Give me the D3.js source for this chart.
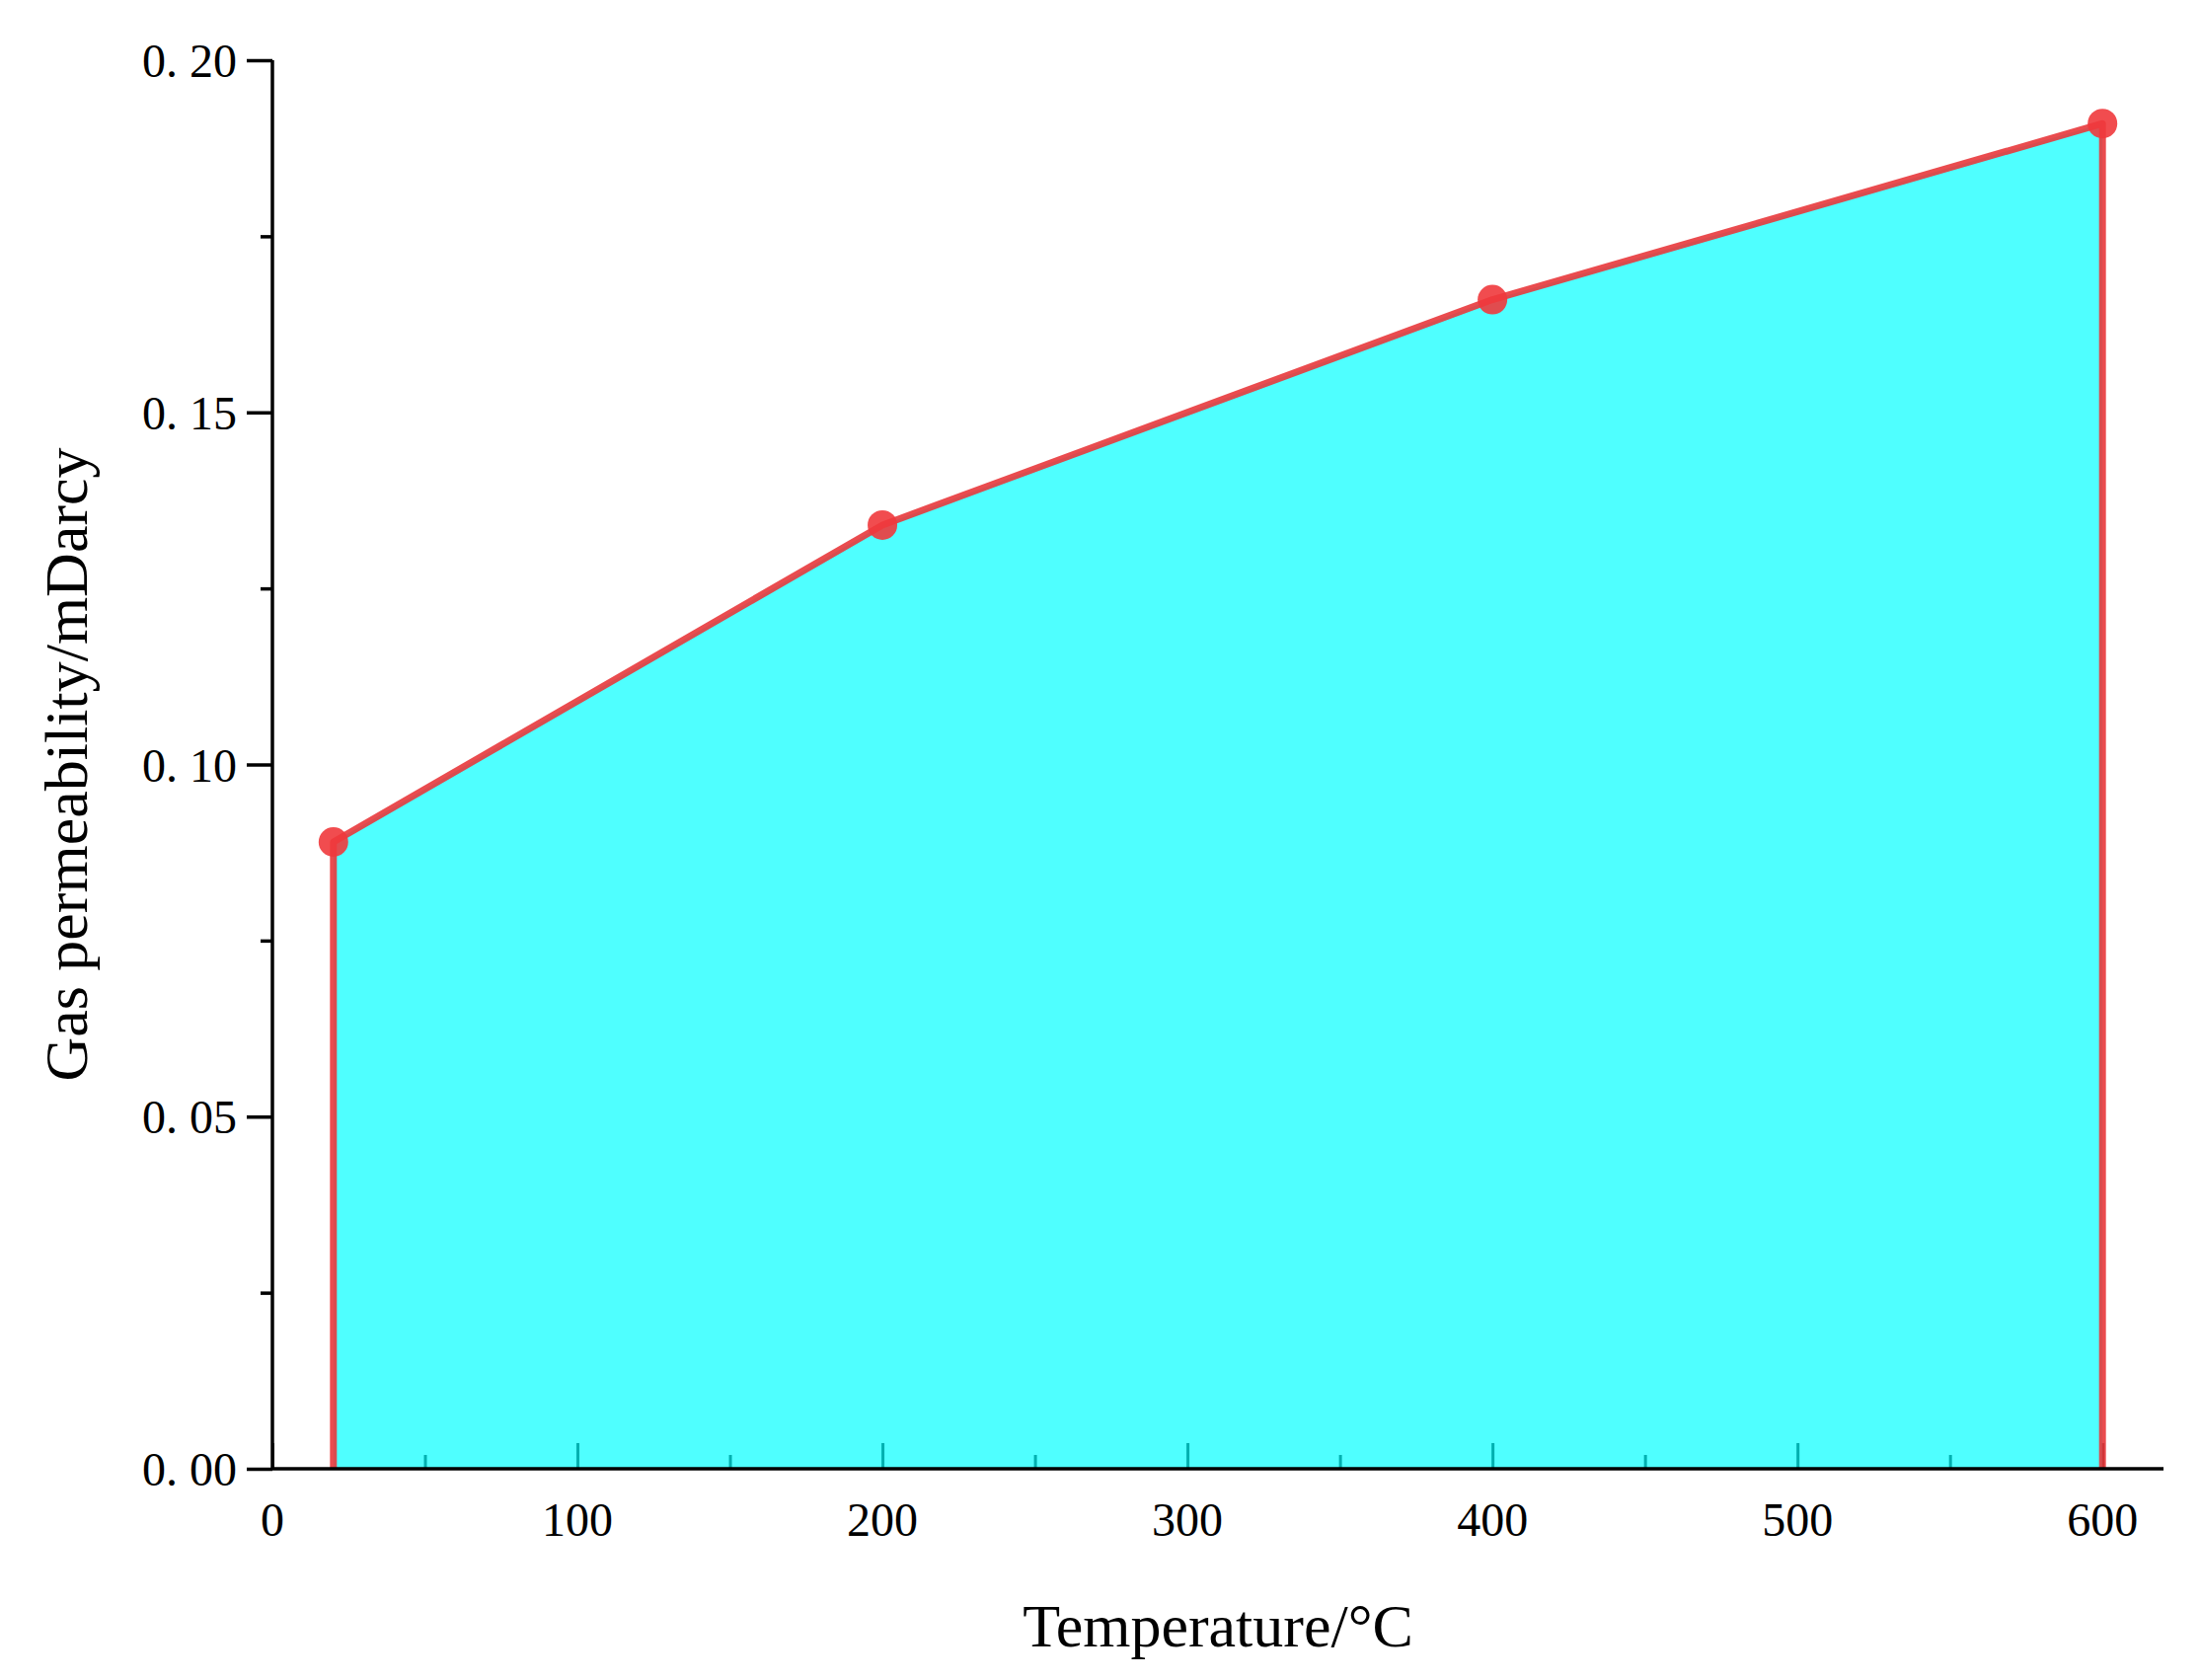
<!DOCTYPE html><html><head><meta charset="utf-8"><script src="https://cdn.jsdelivr.net/npm/d3@7"></script>
<style>body{margin:0;background:#fff}text{font-family:"Liberation Serif","DejaVu Serif",serif}</style></head><body><svg id="c" width="2230" height="1702"></svg><script>
const temps=[20,200,400,600];
const perm=[0.089,0.134,0.166,0.191];
const xTicks=[0,100,200,300,400,500,600];
const yTicks=[0,0.05,0.10,0.15,0.20];
const svg=d3.select("#c");
const x=d3.scaleLinear().domain([0,620]).range([276,2192]);
const y=d3.scaleLinear().domain([0,0.20]).range([1488,61]);
const data=temps.map((t,i)=>({t,v:perm[i]}));
// x ticks inward (drawn under fill)
const xa=svg.append("g").attr("transform",`translate(0,${y(0)})`)
 .call(d3.axisBottom(x).tickValues(d3.range(0,621,50)).tickSize(-26).tickFormat(""));
xa.selectAll(".tick line").attr("stroke","#000").attr("stroke-width",3).attr("y2",d=>d%100===0?-26:-14);
xa.select(".domain").remove();
svg.append("g").selectAll("text").data(xTicks).join("text").attr("x",d=>x(d)).attr("y",y(0)+68)
 .attr("text-anchor","middle").attr("font-size",48).text(d=>d);
// area
const pts=[[x(temps[0]),y(0)],...data.map(d=>[x(d.t),y(d.v)]),[x(temps[3]),y(0)]];
svg.append("path").attr("d",d3.line()(pts)).attr("fill","#00ffff").attr("fill-opacity",0.69).attr("stroke","none");
svg.append("path").attr("d",d3.line()(pts)).attr("fill","none").attr("stroke","#e8383c").attr("stroke-opacity",0.9).attr("stroke-width",7).attr("stroke-linejoin","round");
svg.append("g").selectAll("circle").data(data).join("circle").attr("cx",d=>x(d.t)).attr("cy",d=>y(d.v)).attr("r",15).attr("fill","#f0383c").attr("fill-opacity",0.9);
// axes lines
svg.append("line").attr("x1",x(0)).attr("x2",x(620)).attr("y1",y(0)).attr("y2",y(0)).attr("stroke","#000").attr("stroke-width",3.5);
svg.append("line").attr("x1",x(0)).attr("x2",x(0)).attr("y1",y(0)).attr("y2",y(0.2)).attr("stroke","#000").attr("stroke-width",3.5);
const ya=svg.append("g").attr("transform",`translate(${x(0)},0)`)
 .call(d3.axisLeft(y).tickValues(d3.range(0,0.2001,0.025)).tickSize(26).tickFormat(""));
ya.select(".domain").remove();
ya.selectAll(".tick line").attr("stroke","#000").attr("stroke-width",3.5).attr("x2",(d,i)=>i%2===0?-26:-12);
svg.append("g").selectAll("text").data(yTicks).join("text").attr("x",x(0)-36).attr("y",d=>y(d)+17)
 .attr("text-anchor","end").attr("font-size",48).text(d=>d.toFixed(2).replace(".",". "));
svg.append("text").attr("x",(x(0)+x(620))/2).attr("y",1668).attr("text-anchor","middle").attr("font-size",62).text("Temperature/°C");
svg.append("text").attr("transform",`translate(88,${(y(0)+y(0.2))/2}) rotate(-90)`).attr("text-anchor","middle").attr("font-size",62).text("Gas permeability/mDarcy");
</script></body></html>
